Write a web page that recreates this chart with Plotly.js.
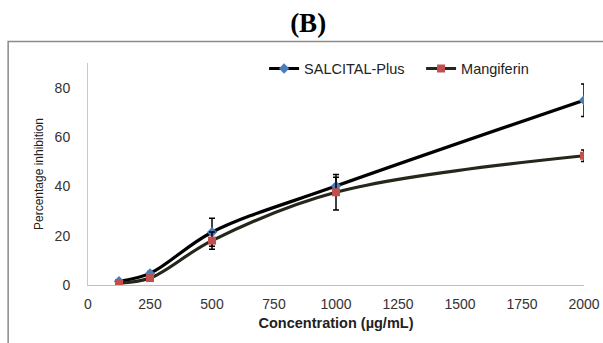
<!DOCTYPE html>
<html>
<head>
<meta charset="utf-8">
<script src="https://cdn.plot.ly/plotly-3.0.1.min.js"></script>
<style>html,body{margin:0;padding:0;background:#fff;}#chart{width:603px;height:343px;}</style>
</head>
<body>
<div id="chart"></div>
<script>
const concentration = [125, 250, 500, 1000, 2000];
const salcitalPlus = [1.5, 4.7, 21.4, 40.1, 74.9];
const salcitalErr = [0.5, 0.8, 5.7, 3.6, 6.6];
const mangiferin = [0.8, 2.8, 18.0, 37.6, 52.4];
const mangiferinErr = [0.5, 0.8, 3.5, 7.2, 2.3];
const xTicks = [0, 250, 500, 750, 1000, 1250, 1500, 1750, 2000];
const yTicks = [0, 20, 40, 60, 80];

const baseFont = "Liberation Sans, Arial, sans-serif";

const traces = [
  {
    x: concentration, y: salcitalPlus, name: 'SALCITAL-Plus', type: 'scatter', mode: 'lines+markers',
    line: {color: '#000000', width: 3.2, shape: 'spline', smoothing: 1},
    marker: {symbol: 'diamond', size: 8, color: '#4a7ebb'},
    error_y: {type: 'data', array: salcitalErr, visible: true, color: '#000', thickness: 1.5, width: 3}
  },
  {
    x: concentration, y: mangiferin, name: 'Mangiferin', type: 'scatter', mode: 'lines+markers',
    line: {color: '#26261a', width: 3.2, shape: 'spline', smoothing: 1},
    marker: {symbol: 'square', size: 8, color: '#c0504d'},
    error_y: {type: 'data', array: mangiferinErr, visible: true, color: '#000', thickness: 1.5, width: 3}
  }
];

const layout = {
  width: 603, height: 343,
  margin: {l: 88, r: 19, t: 63, b: 58},
  paper_bgcolor: '#fff', plot_bgcolor: '#fff',
  font: {family: baseFont, size: 14, color: '#333'},
  title: {text: '<b>(B)</b>', font: {family: 'Liberation Serif, Times New Roman, serif', size: 27, color: '#000'},
          x: 0.511, xref: 'container', xanchor: 'center', y: 0.933, yref: 'container', yanchor: 'middle'},
  showlegend: true,
  legend: {orientation: 'h', x: 0.355, xanchor: 'left', y: 0.975, yanchor: 'middle',
           font: {family: baseFont, size: 14.5, color: '#222'}, bgcolor: 'rgba(0,0,0,0)', itemwidth: 30,
           entrywidth: 112},
  xaxis: {
    range: [0, 2000], tickvals: xTicks, ticktext: xTicks.map(String), showgrid: false, zeroline: false,
    showline: true, linecolor: '#c0c0c0', linewidth: 1, ticks: '', ticklabelstandoff: 6,
    tickfont: {family: baseFont, size: 14, color: '#333'},
    title: {text: '<b>Concentration (µg/mL)</b>', font: {family: baseFont, size: 14.5, color: '#222'}, standoff: 7}
  },
  yaxis: {
    range: [0, 90], tickvals: yTicks, ticktext: yTicks.map(String), showgrid: false, zeroline: false,
    showline: true, linecolor: '#c8c8c8', linewidth: 1, ticks: '', ticklabelstandoff: 14,
    tickfont: {family: baseFont, size: 14, color: '#333'},
    title: {text: 'Percentage inhibition', font: {family: baseFont, size: 12, color: '#222'}, standoff: 8}
  },
  shapes: [
    {type: 'rect', xref: 'paper', yref: 'paper', x0: -0.161, x1: 1.2, y0: -0.4, y1: 1.0966,
     line: {color: '#8a8a8a', width: 1.5}, fillcolor: 'rgba(0,0,0,0)', layer: 'below'}
  ]
};

Plotly.newPlot('chart', traces, layout, {displayModeBar: false, staticPlot: true});
</script>
</body>
</html>
